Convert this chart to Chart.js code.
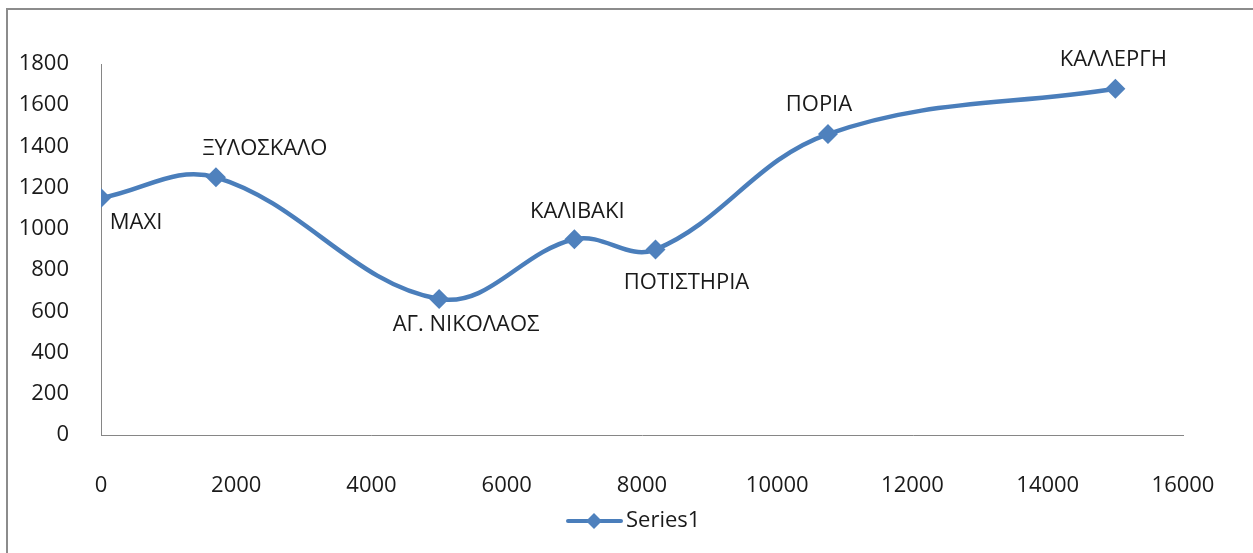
<!DOCTYPE html>
<html>
<head>
<meta charset="utf-8">
<script src="https://cdn.jsdelivr.net/npm/chart.js@4"></script>
<style>
  html, body { margin: 0; padding: 0; background: #fff; }
  #wrap { width: 1253px; height: 553px; position: relative; }
</style>
</head>
<body>
<div id="wrap"><canvas id="c" width="1253" height="553"></canvas></div>
<script>
// ---- data ----
const stations = ["ΜΑΧΙ", "ΞΥΛΟΣΚΑΛΟ", "ΑΓ. ΝΙΚΟΛΑΟΣ", "ΚΑΛΙΒΑΚΙ", "ΠΟΤΙΣΤΗΡΙΑ", "ΠΟΡΙΑ", "ΚΑΛΛΕΡΓΗ"];
const distances = [0, 1700, 5000, 7000, 8200, 10750, 15000];
const altitudes = [1150, 1250, 660, 950, 900, 1460, 1680];
const seriesName = "Series1";
const xTicks = [0, 2000, 4000, 6000, 8000, 10000, 12000, 14000, 16000];
const yTicks = [0, 200, 400, 600, 800, 1000, 1200, 1400, 1600, 1800];

// ---- label placement (pixel offsets from each point) ----
const labelOffsets = [[35, 25], [49, -29], [27, 26], [3, -27], [31, 33], [-9, -29], [-2, -29]];

const FONT = "'Open Sans', 'DejaVu Sans', sans-serif";
const LINE = "#4A7EBB";
const MARK = "#4F81BD";
const TEXT = "#1a1a1a";

const points = distances.map((d, i) => ({ x: d, y: altitudes[i] }));

function diamond(ctx, x, y, r) {
  ctx.beginPath();
  ctx.moveTo(x, y - r);
  ctx.lineTo(x + r, y);
  ctx.lineTo(x, y + r);
  ctx.lineTo(x - r, y);
  ctx.closePath();
  ctx.fill();
}

const decor = {
  id: 'decor',
  beforeDraw(chart) {
    const ctx = chart.ctx;
    ctx.save();
    ctx.fillStyle = '#fff';
    ctx.fillRect(0, 0, chart.width, chart.height);
    ctx.strokeStyle = '#8c8c8c';
    ctx.lineWidth = 2;
    ctx.strokeRect(7, 9, chart.width + 50, chart.height + 50);
    ctx.restore();
  },
  afterDatasetsDraw(chart) {
    const ctx = chart.ctx;
    const meta = chart.getDatasetMeta(0);
    ctx.save();
    ctx.font = "22px " + FONT;
    ctx.fillStyle = TEXT;
    ctx.textAlign = 'center';
    ctx.textBaseline = 'middle';
    meta.data.forEach((pt, i) => {
      const o = labelOffsets[i];
      ctx.fillText(stations[i], pt.x + o[0], pt.y + o[1]);
    });
    // legend
    const cx = 594, cy = 521;
    ctx.strokeStyle = LINE;
    ctx.lineWidth = 4;
    ctx.lineCap = 'round';
    ctx.beginPath();
    ctx.moveTo(568, cy);
    ctx.lineTo(621, cy);
    ctx.stroke();
    ctx.fillStyle = MARK;
    diamond(ctx, cx, cy, 8);
    ctx.fillStyle = TEXT;
    ctx.textAlign = 'left';
    ctx.fillText(seriesName, 626, cy);
    ctx.restore();
  }
};

new Chart(document.getElementById('c'), {
  type: 'scatter',
  data: {
    datasets: [{
      label: seriesName,
      data: points,
      showLine: true,
      tension: 0.38,
      borderColor: LINE,
      borderWidth: 4.5,
      pointStyle: 'rectRot',
      pointRadius: 10,
      pointHoverRadius: 10,
      pointBackgroundColor: MARK,
      pointBorderColor: MARK,
      pointBorderWidth: 0
    }]
  },
  options: {
    responsive: false,
    animation: false,
    events: [],
    layout: { padding: { left: 0, top: 64, right: 70, bottom: 0 } },
    plugins: { legend: { display: false }, tooltip: { enabled: false } },
    scales: {
      x: {
        type: 'linear',
        min: xTicks[0], max: xTicks[xTicks.length - 1],
        afterBuildTicks(scale) { scale.ticks = xTicks.map(v => ({ value: v })); },
        afterFit(scale) { scale.height = 118; },
        grid: { display: false },
        border: { display: true, color: '#868686', width: 1 },
        ticks: { padding: 30, color: TEXT, font: { family: FONT, size: 22 }, maxRotation: 0, autoSkip: false,
                 callback: v => String(v) }
      },
      y: {
        type: 'linear',
        min: yTicks[0], max: yTicks[yTicks.length - 1],
        afterBuildTicks(scale) { scale.ticks = yTicks.map(v => ({ value: v })); },
        afterFit(scale) { scale.width = 101; },
        grid: { display: false },
        border: { display: true, color: '#868686', width: 1 },
        ticks: { padding: 24, color: TEXT, font: { family: FONT, size: 22 }, autoSkip: false,
                 callback: v => String(v) }
      }
    }
  },
  plugins: [decor]
});
</script>
</body>
</html>
